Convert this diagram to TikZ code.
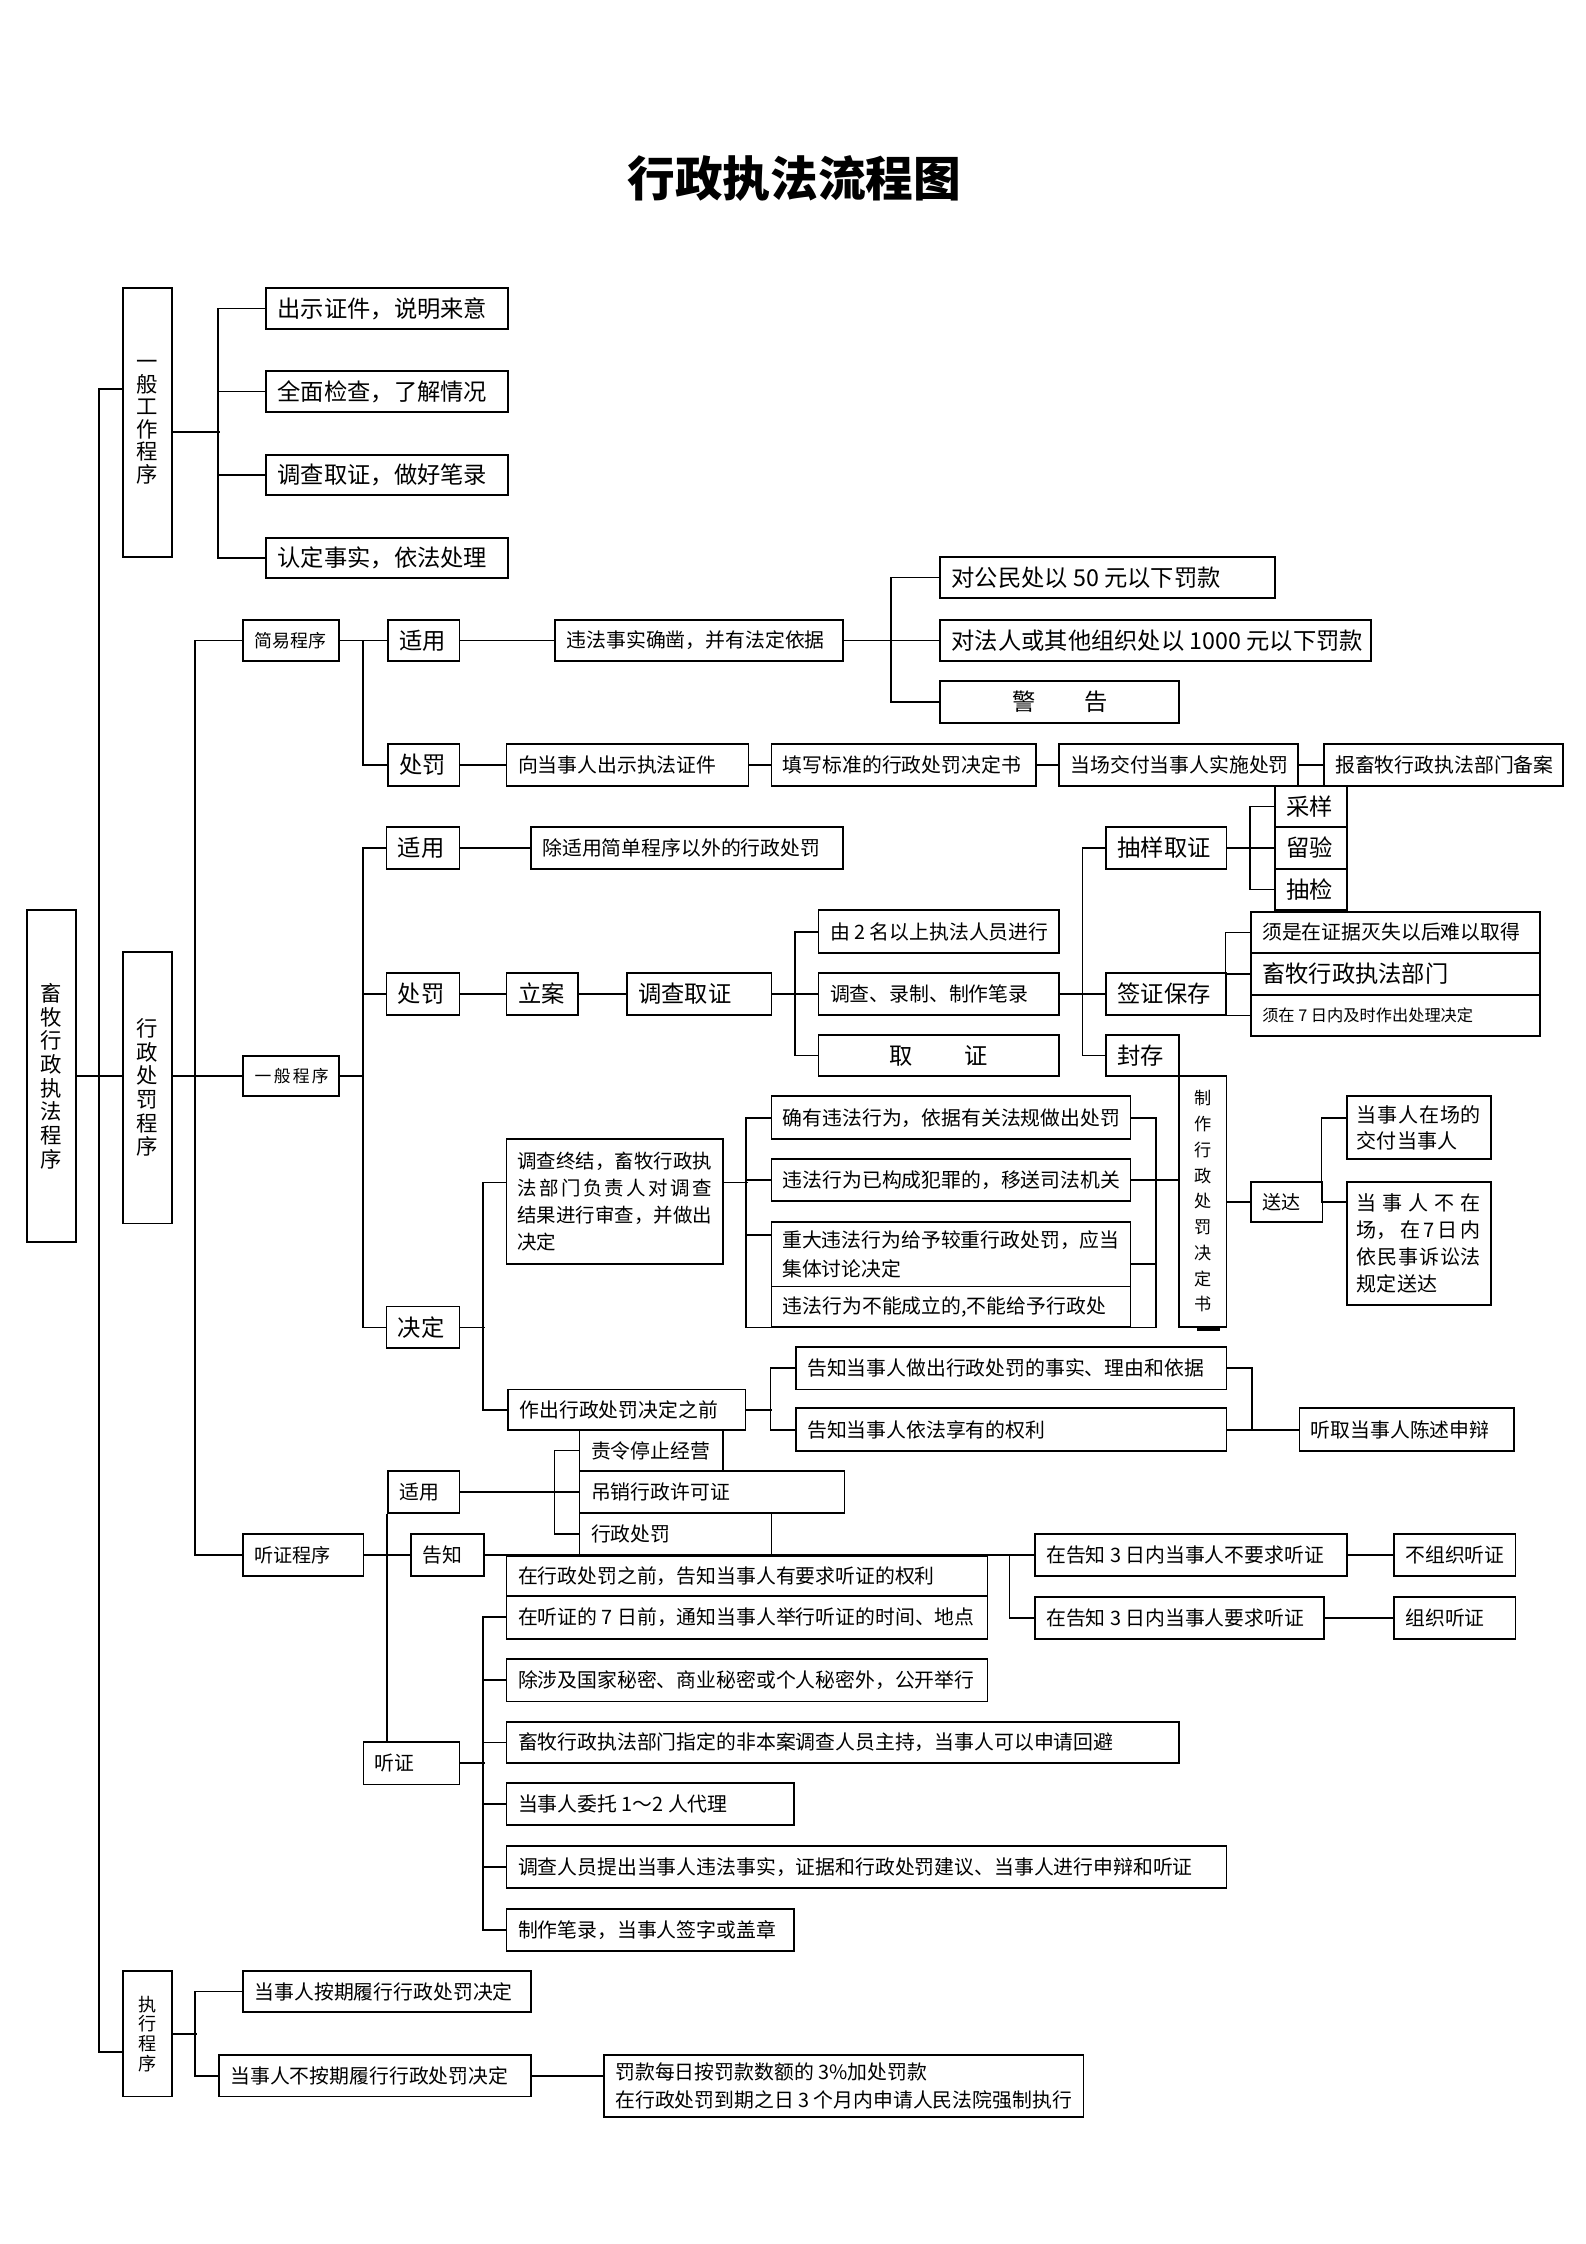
\documentclass[tikz,border=0pt]{standalone}
\usepackage{fontspec}
\setmainfont{Noto Sans CJK SC}
\newcommand\fnL{\fontsize{12.2}{14}\selectfont}
\newcommand\fnM{\fontsize{10.4}{13}\selectfont}
\newcommand\fnS{\fontsize{8.5}{10}\selectfont}
\tikzset{
  bxs/.style={draw,line width=0.9pt,inner sep=0pt,rectangle,font=\fnM},
  ln/.style={line width=0.9pt},
}
\newcommand\mkbx[7][]{%
  \pgfmathsetlengthmacro\bxw{(#5-#3)*0.75}%
  \pgfmathsetlengthmacro\bxh{(#6-#4)*0.75}%
  \pgfmathsetlengthmacro\bxt{(#5-#3)*0.75-12}%
  \node[bxs,minimum width=\bxw,minimum height=\bxh,#1] (#2) at ({(#3+#5)/2},{(#4+#6)/2}) {#7};}
\newcommand\txl[1]{\makebox[\bxt][l]{#1}}
\newcommand\txc[1]{\makebox[\bxt][c]{#1}}
\begin{document}
\begin{tikzpicture}[x=0.75pt,y=-0.75pt]
\useasboundingbox (0,0) rectangle (1108,1568);
\node[font=\fontsize{25}{30}\selectfont\bfseries] (title) at (555,125) {行政执法流程图};

% root and level 1
\mkbx[align=center,font=\fontsize{11.2}{12.4}\selectfont]{root}{19}{636}{53}{868}{畜\\牧\\行\\政\\执\\法\\程\\序}
\mkbx[align=center,font=\fontsize{11.2}{11.8}\selectfont]{gw}{86}{201}{120}{389}{一\\般\\工\\作\\程\\序}
\mkbx[align=center,font=\fontsize{11.2}{12.4}\selectfont]{xz}{86}{665}{120}{855}{行\\政\\处\\罚\\程\\序}
\mkbx[align=center,font=\fontsize{9.5}{10.3}\selectfont]{zx}{86}{1377}{120}{1465}{执\\行\\程\\序}
\coordinate (mt) at (69,272);
\coordinate (mb) at (69,1434);
\draw[ln] (mt -| gw.west) -- (mt) -- (mb) -- (mb -| zx.west);
\draw[ln] (root.east) -- (root.east -| xz.west);

% general work procedure
\mkbx[font=\fnL]{g1}{186}{201}{355}{230}{\txl{出示证件，说明来意}}
\mkbx[font=\fnL]{g2}{186}{259}{355}{288}{\txl{全面检查，了解情况}}
\mkbx[font=\fnL]{g3}{186}{318}{355}{346}{\txl{调查取证，做好笔录}}
\mkbx[font=\fnL]{g4}{186}{376}{355}{404}{\txl{认定事实，依法处理}}
\draw[ln] ([yshift=-5pt]gw.east) -- ++(33,0);
\draw[ln] (g1.west) -- ++(-33,0) |- (g4.west);
\draw[ln] (g2.west) -- ++(-33,0);
\draw[ln] (g3.west) -- ++(-33,0);

% administrative penalty procedure
\mkbx[font=\fontsize{9.4}{11}\selectfont]{jy}{170}{433}{237}{462}{\txl{简易程序}}
\mkbx[font=\fontsize{8.8}{11}\selectfont]{yb}{170}{738}{237}{766}{\txl{一\hspace{1.2pt}般\hspace{1.2pt}程\hspace{1.2pt}序}}
\mkbx[font=\fontsize{10}{12}\selectfont]{tz}{170}{1072}{254}{1101}{\txl{听证程序}}
\draw[ln] (jy.west) -- ++(-33,0) |- (tz.west);
\draw[ln] (xz.east |- yb.west) -- (yb.west);

% simple procedure
\mkbx[font=\fnL]{jsy}{271}{433}{321}{462}{\txl{适用}}
\mkbx{jss}{388}{433}{589}{462}{\txl{违法事实确凿，并有法定依据}}
\mkbx[font=\fnL]{f1}{657}{389}{891}{418}{\txl{对公民处以 50 元以下罚款}}
\mkbx[font=\fnL]{f2}{657}{433}{958}{462}{\txl{对法人或其他组织处以 1000 元以下罚款}}
\mkbx[font=\fnL]{f3}{657}{476}{824}{505}{\txc{警\hspace{2.1em}告}}
\mkbx[font=\fnL]{jcf}{271}{520}{321}{549}{\txl{处罚}}
\mkbx{c1}{354}{520}{523}{549}{\txl{向当事人出示执法证件}}
\mkbx{c2}{539}{520}{724}{549}{\txl{填写标准的行政处罚决定书}}
\mkbx{c3}{740}{520}{907}{549}{\txl{当场交付当事人实施处罚}}
\mkbx{c4}{925}{520}{1092}{549}{\txl{报畜牧行政执法部门备案}}
\draw[ln] (jy.east) -- (jsy.west);
\draw[ln] (jsy.west) ++(-17,0) |- (jcf.west);
\draw[ln] (jsy.east) -- (jss.west);
\draw[ln] (jss.east) -- (f2.west);
\draw[ln] (f1.west) -- ++(-34,0) |- (f3.west);
\draw[ln] (jcf.east) -- (c1.west);
\draw[ln] (c1.east) -- (c2.west);
\draw[ln] (c2.east) -- (c3.west);
\draw[ln] (c3.east) -- (c4.west);

% general procedure
\draw[ln] (yb.east) -- ++(17,0);
\mkbx[font=\fnL]{ysy}{270}{578}{321}{607}{\txl{适用}}
\mkbx{ysy2}{371}{578}{589}{607}{\txl{除适用简单程序以外的行政处罚}}
\mkbx[font=\fnL]{ycf}{270}{680}{321}{709}{\txl{处罚}}
\mkbx[font=\fnL]{jd}{270}{913}{321}{942}{\txl{决定}}
\draw[ln] (ysy.west) -- ++(-16,0) |- (jd.west);
\draw[ln] (ycf.west) -- ++(-16,0);
\draw[ln] (ysy.east) -- (ysy2.west);
\mkbx[font=\fnL]{la}{354}{680}{404}{709}{\txl{立案}}
\mkbx[font=\fnL]{dc}{438}{680}{539}{709}{\txl{调查取证}}
\draw[ln] (ycf.east) -- (la.west);
\draw[ln] (la.east) -- (dc.west);
\mkbx{d1}{572}{636}{740}{666}{\txl{由 2 名以上执法人员进行}}
\mkbx{d2}{572}{680}{740}{709}{\txl{调查、录制、制作笔录}}
\mkbx[font=\fnL]{d3}{572}{723}{740}{752}{\txc{取\hspace{2.2em}证}}
\draw[ln] (d1.west) -- ++(-16,0) |- (d3.west);
\draw[ln] (dc.east) -- (d2.west);
\mkbx[font=\fnL]{cy}{773}{578}{857}{607}{\txl{抽样取证}}
\mkbx[font=\fnL]{qz}{773}{680}{857}{709}{\txl{签证保存}}
\mkbx[font=\fnL]{fc}{773}{723}{824}{752}{\txl{封存}}
\draw[ln] (cy.west) -- ++(-16,0) |- (fc.west);
\draw[ln] (d2.east) -- (qz.west);
\mkbx[font=\fnL]{s1}{891}{549}{941}{578}{\txl{采样}}
\mkbx[font=\fnL]{s2}{891}{578}{941}{607}{\txl{留验}}
\mkbx[font=\fnL]{s3}{891}{607}{941}{636}{\txl{抽检}}
\draw[ln] (s1.west) -- ++(-17,0) |- (s3.west);
\draw[ln] (cy.east) -- (s2.west);
\mkbx{b1}{874}{637}{1076}{666}{\txl{须是在证据灭失以后难以取得}}
\mkbx[font=\fontsize{12.2}{14}\selectfont]{b2}{874}{666}{1076}{695}{\txl{畜牧行政执法部门}}
\mkbx[font=\fnS]{b3}{874}{695}{1076}{724}{\txl{须在 7 日内及时作出处理决定}}
\draw[ln] (b1.west) -- ++(-17,0) |- (b3.west);
\draw[ln] (b2.west) -- ++(-17,0);
\mkbx[align=center,font=\fontsize{9}{13.5}\selectfont]{zz}{824}{752}{857}{927}{制\\作\\行\\政\\处\\罚\\决\\定\\书}
\draw[line width=1.5pt] ([xshift=-3pt,yshift=-1.2pt]zz.south) -- ++(16,0);

% decision
\draw[ln] (jd.east) -- ++(17,0);
\mkbx[align=left,font=\fontsize{10.2}{14.25}\selectfont]{dz}{354}{796}{505}{883}{调查终结，畜牧行政执\\\makebox[102pt]{法\hfill 部\hfill 门\hfill 负\hfill 责\hfill 人\hfill 对\hfill 调\hfill 查}\\结果进行审查，并做出\\决定}
\mkbx{r1}{539}{766}{790}{796}{\txl{确有违法行为，依据有关法规做出处罚}}
\mkbx{r2}{539}{810}{790}{839}{\txl{违法行为已构成犯罪的，移送司法机关}}
\mkbx[align=left,font=\fontsize{10.4}{15.5}\selectfont]{r3}{539}{854}{790}{899}{重大违法行为给予较重行政处罚，应当\\集体讨论决定}
\mkbx{r4}{539}{899}{790}{927}{\txl{违法行为不能成立的,不能给予行政处}}
\mkbx{zq}{355}{971}{521}{999}{\txl{作出行政处罚决定之前}}
\draw[ln] ([yshift=10pt]dz.west) -- ++(-16,0) |- (zq.west);
\draw[ln] ([yshift=10pt]dz.east) -- ++(17,0);
\draw[ln] (r1.west) -- ++(-17,0) |- (r4.south west);
\draw[ln] (r2.west) -- ++(-17,0);
\draw[ln] ([yshift=10pt]r3.west) -- ++(-17,0);
\draw[ln] (r1.east) -- ++(17,0) |- (r4.south east);
\draw[ln] ([yshift=-5pt]r3.east) -- ++(17,0);
\draw[ln] (r2.east) -- (r2.east -| zz.west);

\mkbx[font=\fontsize{10}{12}\selectfont]{sd}{874}{826}{924}{854}{\txl{送达}}
\draw[ln] (zz.east |- sd.west) -- (sd.west);
\mkbx[align=left,font=\fontsize{10.5}{13.5}\selectfont]{p1}{941}{766}{1042}{810}{\makebox[65pt]{当\hfill 事\hfill 人\hfill 在\hfill 场\hfill 的}\\交付当事人}
\mkbx[align=left,font=\fontsize{10.5}{14.2}\selectfont]{p2}{941}{826}{1042}{912}{\makebox[65pt]{当\hfill 事\hfill 人\hfill 不\hfill 在}\\\makebox[65pt]{场，\hfill 在\hfill 7\hfill 日\hfill 内}\\\makebox[65pt]{依\hfill 民\hfill 事\hfill 诉\hfill 讼\hfill 法}\\规定送达}
\draw[ln] ([yshift=5pt]p1.west) -- ++(-17,0) |- (sd.east);
\draw[ln] (sd.east) -- (sd.east -| p2.west);

\mkbx{t1}{556}{941}{857}{971}{\txl{告知当事人做出行政处罚的事实、理由和依据}}
\mkbx{t2}{556}{984}{857}{1014}{\txl{告知当事人依法享有的权利}}
\mkbx{tq}{908}{984}{1058}{1014}{\txl{听取当事人陈述申辩}}
\draw[ln] (zq.east) -- ++(18,0);
\draw[ln] (t1.west) -- ++(-17,0) |- (t2.west);
\draw[ln] (t1.east) -- ++(17,0) |- (t2.east);
\draw[ln] (t2.east) -- (tq.west);

% hearing procedure
\mkbx{tsy}{271}{1028}{321}{1057}{\txl{适用}}
\mkbx{tgz}{287}{1072}{338}{1101}{\txl{告知}}
\mkbx{ttz}{254}{1217}{321}{1247}{\txl{听证}}
\draw[ln] (tz.east) -- (tgz.west);
\draw[ln] (tsy.south west) -- (tsy.south west |- ttz.north);
\mkbx{a1}{405}{999}{505}{1028}{\txl{责令停止经营}}
\mkbx{a2}{405}{1028}{590}{1057}{\txl{吊销行政许可证}}
\mkbx{a3}{405}{1057}{539}{1087}{\txl{行政处罚}}
\draw[ln] (tsy.east) -- (a2.west);
\draw[ln] (a1.west) -- ++(-17,0) |- (a3.west);
\mkbx{h1}{354}{1087}{690}{1115}{\txl{在行政处罚之前，告知当事人有要求听证的权利}}
\mkbx{h2}{354}{1115}{690}{1145}{\txl{在听证的 7 日前，通知当事人举行听证的时间、地点}}
\mkbx{h3}{354}{1159}{690}{1189}{\txl{除涉及国家秘密、商业秘密或个人秘密外，公开举行}}
\mkbx{h4}{354}{1203}{824}{1232}{\txl{畜牧行政执法部门指定的非本案调查人员主持，当事人可以申请回避}}
\mkbx{h5}{354}{1246}{555}{1275}{\txl{当事人委托 1～2 人代理}}
\mkbx{h6}{354}{1290}{857}{1319}{\txl{调查人员提出当事人违法事实，证据和行政处罚建议、当事人进行申辩和听证}}
\mkbx{h7}{354}{1334}{555}{1363}{\txl{制作笔录，当事人签字或盖章}}
\draw[ln] (ttz.east) -- ++(17,0);
\draw[ln] (h2.west) -- ++(-16,0) |- (h7.west);
\draw[ln] (h3.west) -- ++(-16,0);
\draw[ln] (h4.west) -- ++(-16,0);
\draw[ln] (h5.west) -- ++(-16,0);
\draw[ln] (h6.west) -- ++(-16,0);
\mkbx{k1}{723}{1072}{941}{1101}{\txl{在告知 3 日内当事人不要求听证}}
\mkbx{k2}{723}{1116}{925}{1145}{\txl{在告知 3 日内当事人要求听证}}
\mkbx{k3}{974}{1072}{1059}{1101}{\txl{不组织听证}}
\mkbx{k4}{974}{1116}{1059}{1145}{\txl{组织听证}}
\draw[ln] (tgz.east) -- (k1.west);
\draw[ln] (k1.west) ++(-17,0) |- (k2.west);
\draw[ln] (k1.east) -- (k3.west);
\draw[ln] (k2.east) -- (k4.west);

% execution procedure
\mkbx{e1}{170}{1377}{371}{1406}{\txl{当事人按期履行行政处罚决定}}
\mkbx{e2}{153}{1436}{371}{1465}{\txl{当事人不按期履行行政处罚决定}}
\mkbx[align=left,font=\fontsize{10.4}{15}\selectfont]{e3}{422}{1436}{757}{1479}{罚款每日按罚款数额的 3\%加处罚款\\在行政处罚到期之日 3 个月内申请人民法院强制执行}
\draw[ln] (zx.east) -- ++(17,0);
\draw[ln] (e1.west) -- ++(-33,0) |- (e2.west);
\draw[ln] (e2.east) -- (e2.east -| e3.west);
\end{tikzpicture}
\end{document}
